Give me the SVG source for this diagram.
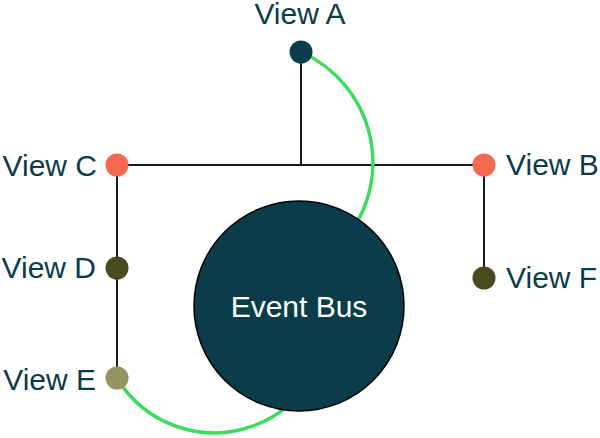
<svg xmlns="http://www.w3.org/2000/svg" width="600" height="438" viewBox="0 0 600 438">
<style>
.lbl{font-family:"Liberation Sans",Arial,sans-serif;font-size:30px;fill:#0b3c49}
.ln{stroke:#1a1a1a;stroke-width:2;fill:none}
.gr{stroke:#3ddc61;stroke-width:3.5;fill:none}
</style>
<rect width="600" height="438" fill="#ffffff"/>
<g id="connectors">
<line class="ln" x1="117" y1="165" x2="484" y2="165"/>
<line class="ln" x1="301" y1="52" x2="301" y2="165"/>
<line class="ln" x1="117" y1="165" x2="117" y2="378"/>
<line class="ln" x1="484" y1="165" x2="484" y2="278"/>
<path class="gr" d="M301,52 A121,121 0 0 1 330,255"/>
<path class="gr" d="M117,378 A113.5,113.5 0 0 0 326,300"/>
</g>
<g id="event-bus">
<circle cx="299" cy="306" r="105" fill="#0b3c49" stroke="#000" stroke-width="1.5"/>
<text x="299" y="317" text-anchor="middle" class="lbl" style="fill:#ffffff">Event Bus</text>
</g>
<g id="view-a">
<circle cx="301" cy="52" r="11.5" fill="#0b3c49"/>
<text x="300" y="24" text-anchor="middle" class="lbl">View A</text>
</g>
<g id="view-b">
<circle cx="484" cy="165" r="11.5" fill="#f4694f"/>
<text x="506" y="175" class="lbl">View B</text>
</g>
<g id="view-c">
<circle cx="117" cy="165" r="11.5" fill="#f4694f"/>
<text x="97" y="176" text-anchor="end" class="lbl">View C</text>
</g>
<g id="view-d">
<circle cx="117" cy="268" r="11.5" fill="#4a4a20"/>
<text x="96" y="278" text-anchor="end" class="lbl">View D</text>
</g>
<g id="view-e">
<circle cx="117" cy="378" r="11.5" fill="#939462"/>
<text x="96" y="390" text-anchor="end" class="lbl">View E</text>
</g>
<g id="view-f">
<circle cx="484" cy="278" r="11.5" fill="#4a4a20"/>
<text x="506" y="288" class="lbl">View F</text>
</g>
</svg>
